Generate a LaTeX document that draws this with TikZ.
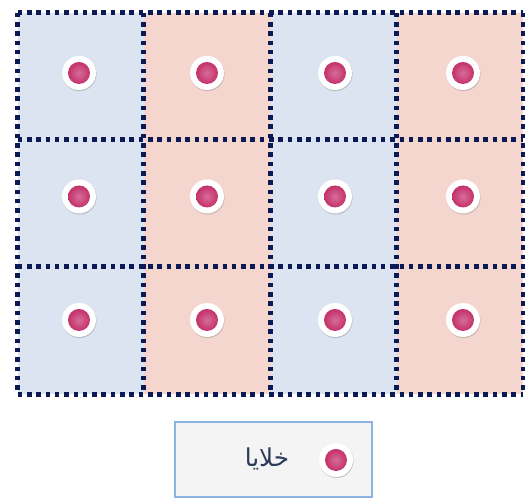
\documentclass[tikz,border=0pt]{standalone}
\usepackage{fontspec}
\usepackage{tikz}
\usetikzlibrary{shadows}
\newfontfamily\arabicfont[Script=Arabic]{DejaVu Sans}
\TeXXeTstate=1
\definecolor{cellblue}{HTML}{DCE3F1}
\definecolor{cellpink}{HTML}{F5D6CF}
\definecolor{gridnavy}{HTML}{0B1A55}
\definecolor{dotpink}{HTML}{C4306A}
\definecolor{legendedge}{HTML}{8DB3E2}
\definecolor{legendtext}{HTML}{2E3A59}

\begin{document}
\begin{tikzpicture}[
  cell/.style = {shape=rectangle, minimum width=2.525cm, minimum height=2.54cm, inner sep=0pt},
  gridline/.style = {draw=gridnavy, line width=2.8pt, dash pattern=on 2.6pt off 2.7pt},
  ring/.style = {shape=circle, fill=white, minimum size=0.68cm, inner sep=0pt,
    drop shadow={shadow xshift=0.3pt, shadow yshift=-0.6pt, opacity=0.4}},
  dot/.style = {shape=circle, inner color=dotpink!70!white, outer color=dotpink, minimum size=0.44cm, inner sep=0pt},
  legendbox/.style = {shape=rectangle, draw=legendedge, fill=gray!9, thick, minimum width=3.94cm, minimum height=1.5cm}]
  \useasboundingbox (0,0) rectangle (10.5,10);
  % cells
  \foreach \r in {0,1,2} {
    \foreach \c in {0,1,2,3} {
      \pgfmathsetmacro{\shade}{mod(\c,2)==0 ? "cellblue" : "cellpink"}
      \node[cell, fill=\shade] (c-\r-\c) at ({0.36+2.525*(\c+0.5)}, {9.74-2.54*(\r+0.5)}) {};
      \node[ring] (r-\r-\c) at ({1.58+2.56*\c}, {8.54-2.47*\r}) {};
      \node[dot] (d-\r-\c) at (r-\r-\c) {};
    }
  }
  % dotted grid
  \foreach \r in {0,1,2} {
    \draw[gridline] (c-\r-0.north west) -- (c-\r-3.north east);
  }
  \draw[gridline] (c-2-0.south west) -- (c-2-3.south east);
  \foreach \c in {0,1,2,3} {
    \draw[gridline] (c-0-\c.north west) -- (c-2-\c.south west);
  }
  \draw[gridline] (c-0-3.north east) -- (c-2-3.south east);
  % legend
  \node[legendbox] (legend) at (5.47,0.81) {};
  \node[ring] (legend-ring) at (6.72,0.8) {};
  \node[dot] (legend-dot) at (legend-ring) {};
  \node[text=legendtext, font=\arabicfont\fontsize{14}{16}\selectfont] (legend-label) at (5.34,0.82) {\beginR خلايا\endR};
\end{tikzpicture}
\end{document}
